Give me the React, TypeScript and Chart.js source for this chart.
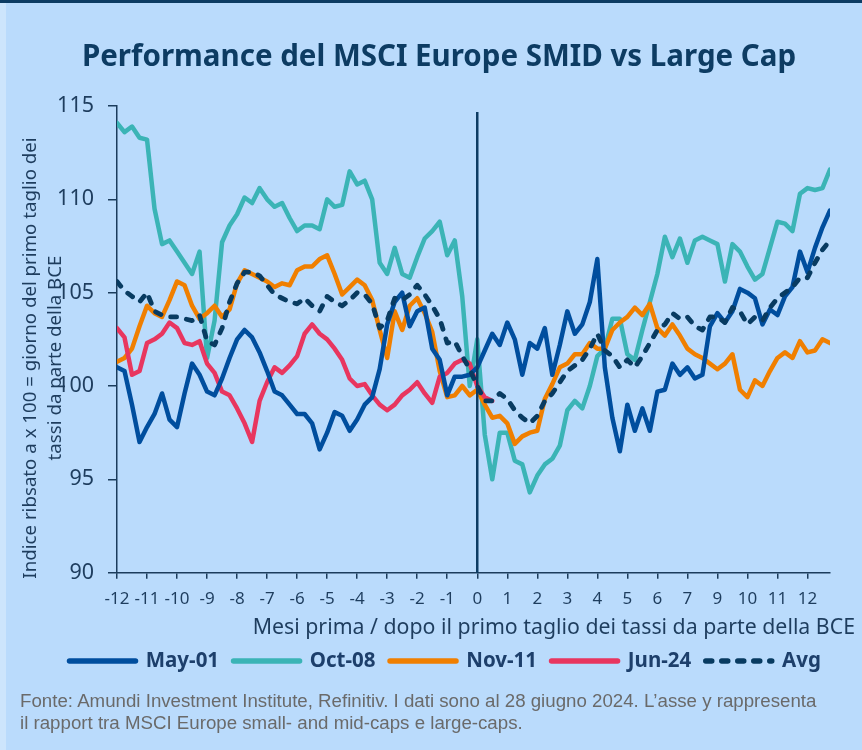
import React, { useEffect, useRef } from "react";
import { Chart, registerables } from "chart.js";

Chart.register(...registerables);

// ---------- data ----------
const TITLE = "Performance del MSCI Europe SMID vs Large Cap";
const Y_TITLE = ["Indice ribsato a x 100 = giorno del primo taglio dei", "tassi da parte della BCE"];
const X_TITLE = "Mesi prima / dopo il primo taglio dei tassi da parte della BCE";
const FOOTNOTE = [
  "Fonte: Amundi Investment Institute, Refinitiv. I dati sono al 28 giugno 2024. L\u2019asse y rappresenta",
  "il rapport tra MSCI Europe small- and mid-caps e large-caps.",
];

// tick labels shown under each month tick (from -12 to the last tick)
const tickLabels = ["-12", "-11", "-10", "-9", "-8", "-7", "-6", "-5", "-4", "-3", "-2", "-1", "0", "1", "2", "3", "4", "5", "6", "7", "9", "10", "11", "12"];

// time grid: quarter-month steps relative to the first ECB cut
const months = Array.from({ length: 96 }, (_, i) => -12 + i * 0.25);

const may01 = [
  101.0, 100.8, 99.0, 97.0, 97.8, 98.5, 99.6, 98.2, 97.8, 99.6,
  101.2, 100.6, 99.7, 99.5, 100.4, 101.5, 102.5, 103.0, 102.6, 101.8,
  100.8, 99.7, 99.5, 99.0, 98.5, 98.5, 98.0, 96.6, 97.5, 98.6,
  98.4, 97.6, 98.2, 99.0, 99.4, 100.9, 103.3, 104.5, 105.0, 103.2,
  104.0, 104.2, 102.0, 101.4, 99.5, 100.5, 100.5, 100.6, 101.0, 101.9,
  102.8, 102.2, 103.4, 102.5, 100.6, 102.3, 102.0, 103.1, 100.6, 102.2,
  104.0, 102.8, 103.3, 104.5, 106.8, 101.0, 98.3, 96.5, 99.0, 97.6,
  98.8, 97.6, 99.7, 99.8, 101.2, 100.6, 101.0, 100.4, 100.6, 103.2,
  103.9, 103.4, 104.0, 105.2, 105.0, 104.7, 103.3, 104.1, 103.8, 104.8,
  105.3, 107.2, 106.1, 107.4, 108.5, 109.4,
];

const oct08 = [
  114.1, 113.6, 113.9, 113.3, 113.2, 109.5, 107.6, 107.8, 107.2, 106.6,
  106.0, 107.2, 101.5, 103.5, 107.7, 108.6, 109.2, 110.1, 109.8, 110.6,
  110.0, 109.6, 109.8, 109.0, 108.3, 108.6, 108.6, 108.4, 110.0, 109.6,
  109.7, 111.5, 110.8, 111.0, 110.0, 106.6, 106.0, 107.4, 106.0, 105.8,
  106.9, 107.9, 108.3, 108.8, 107.0, 107.8, 104.8, 100.0, 102.5, 97.4,
  95.0, 97.5, 97.5, 96.0, 95.8, 94.3, 95.2, 95.8, 96.1, 96.8,
  98.7, 99.2, 98.8, 100.0, 101.6, 102.0, 103.6, 103.6, 101.7, 101.4,
  103.0, 104.5, 106.0, 108.0, 106.9, 107.9, 106.6, 107.8, 108.0, 107.8,
  107.6, 105.6, 107.6, 107.2, 106.4, 105.7, 106.0, 107.4, 108.8, 108.7,
  108.3, 110.3, 110.6, 110.5, 110.6, 111.6,
];

const nov11 = [
  101.3, 101.5, 102.0, 103.2, 104.3, 103.9, 103.7, 104.6, 105.6, 105.4,
  104.3, 103.6, 103.9, 104.3, 103.7, 104.1, 105.5, 106.2, 106.0, 105.8,
  105.6, 105.3, 105.5, 105.4, 106.2, 106.4, 106.4, 106.8, 107.0, 106.0,
  104.9, 105.3, 105.7, 105.4, 104.6, 103.0, 101.5, 104.0, 103.0, 104.3,
  104.7, 103.9, 102.9, 100.8, 99.4, 99.5, 100.0, 99.5, 99.8, 99.0,
  98.3, 98.4, 98.0, 96.9, 97.3, 97.5, 97.6, 99.3, 100.1, 101.0,
  101.2, 101.7, 101.7, 102.3, 102.0, 102.0, 103.0, 103.4, 103.7, 104.2,
  103.8, 104.4, 103.1, 102.7, 103.3, 102.7, 102.0, 101.7, 101.5, 101.2,
  100.9, 101.2, 101.7, 99.8, 99.4, 100.3, 100.0, 100.8, 101.5, 101.8,
  101.5, 102.4, 101.8, 101.9, 102.5, 102.3,
];

const jun24 = [
  103.1, 102.6, 100.6, 100.8, 102.3, 102.5, 102.8, 103.4, 103.1, 102.3,
  102.2, 102.4, 101.2, 100.7, 99.7, 99.5, 98.8, 98.0, 97.0, 99.2,
  100.2, 101.0, 100.7, 101.1, 101.6, 102.8, 103.3, 102.8, 102.5, 102.0,
  101.4, 100.4, 100.0, 100.1, 99.5, 99.0, 98.7, 99.0, 99.5, 99.8,
  100.2, 99.6, 99.1, 100.5, 100.7, 101.2, 101.4, 101.2, 100.0, 99.4,
  99.2,
];

const avg = [
  105.6, 105.1, 104.8, 104.5, 105.0, 104.0, 103.8, 103.7, 103.7, 103.6,
  103.5, 103.8, 102.4, 102.2, 103.1, 104.5, 105.5, 106.1, 106.1, 105.9,
  105.4, 104.9, 104.7, 104.5, 104.4, 104.7, 104.3, 104.0, 104.8, 104.5,
  104.3, 104.6, 105.0, 104.9, 104.4, 103.1, 103.5, 104.7, 104.6, 104.9,
  105.4, 104.9, 104.3, 103.6, 102.3, 102.4, 101.6, 100.9, 100.0, 99.2,
  99.2, 99.6, 99.3, 98.7, 98.3, 98.0, 98.4, 99.2, 99.6, 100.2,
  100.8, 101.1, 101.4, 102.0, 102.8, 101.9, 101.6, 101.0, 101.4, 101.0,
  101.6, 102.3, 103.0, 103.3, 103.9, 103.6, 103.7, 103.2, 103.0, 103.7,
  103.7, 103.4, 104.2, 104.0, 103.3, 103.7, 103.5, 104.2, 104.7, 105.0,
  105.3, 105.8, 105.8, 106.6, 107.3, 107.8,
];

// ---------- styles ----------
const BG = "#badbfc";
const NAVY = "#0d3c63";
const AXIS = "#1b3c5c";
const TEXT = "#1e3d5e";
const C_MAY = "#004e9e";
const C_OCT = "#3bb4b6";
const C_NOV = "#f07f00";
const C_JUN = "#e8365f";
const C_AVG = "#083b61";

const overlay = {
  id: "overlay",
  afterLayout(chart: any) {
    // centre the title on the whole card rather than on the padded area
    const t = chart.titleBlock;
    if (t) {
      t.left = 16;
      t.right = 862;
    }
  },
  afterDatasetsDraw(chart: any) {
    const { ctx, chartArea, scales } = chart;
    const x0 = scales.x.getPixelForValue(0);
    ctx.save();
    ctx.strokeStyle = NAVY;
    ctx.lineWidth = 2.5;
    ctx.beginPath();
    ctx.moveTo(x0, chartArea.top + 6);
    ctx.lineTo(x0, chartArea.bottom);
    ctx.stroke();
    ctx.restore();
  },
  afterDraw(chart: any) {
    const { ctx, chartArea } = chart;
    ctx.save();
    ctx.fillStyle = TEXT;
    ctx.textBaseline = "middle";
    ctx.font = '18.7px "Noto Sans"';
    // y axis title (rotated, two lines)
    ctx.save();
    ctx.translate(31, 358);
    ctx.rotate(-Math.PI / 2);
    ctx.textAlign = "center";
    ctx.fillText(Y_TITLE[0], 0, 0);
    ctx.fillText(Y_TITLE[1], 0, 25);
    ctx.restore();
    // x axis title, right aligned past the plot edge
    ctx.font = '21.3px "Noto Sans"';
    ctx.textAlign = "right";
    ctx.fillText(X_TITLE, chartArea.right + 25, 628);
    ctx.restore();
  },
};

export default function App() {
  const ref = useRef<HTMLCanvasElement | null>(null);

  useEffect(() => {
    document.body.style.margin = "0";
    if (!ref.current) return;
    const chart = new Chart(ref.current, {
      type: "line",
      data: {
        labels: months,
        datasets: [
          { label: "May-01", data: may01, borderColor: C_MAY, backgroundColor: C_MAY, order: 1 },
          { label: "Oct-08", data: oct08, borderColor: C_OCT, backgroundColor: C_OCT, order: 4 },
          { label: "Nov-11", data: nov11, borderColor: C_NOV, backgroundColor: C_NOV, order: 3 },
          { label: "Jun-24", data: jun24, borderColor: C_JUN, backgroundColor: C_JUN, order: 2 },
          { label: "Avg", data: avg, borderColor: C_AVG, backgroundColor: C_AVG, borderDash: [6, 10], borderWidth: 4.8, order: 0 },
        ].map((d: any) => ({
          borderWidth: 4.5,
          borderCapStyle: "round",
          borderJoinStyle: "round",
          pointRadius: 0,
          pointHoverRadius: 0,
          tension: 0,
          fill: false,
          yAxisID: "y",
          ...d,
        })) as any,
      },
      options: {
        animation: false,
        responsive: false,
        maintainAspectRatio: false,
        layout: { padding: { left: 55, right: 0, top: 0, bottom: 68.75 } },
        plugins: {
          title: {
            display: true,
            text: TITLE,
            color: NAVY,
            font: { family: "Noto Sans", size: 29.5, weight: "bold" },
            padding: { top: 40.3, bottom: 30.3 },
          },
          legend: {
            position: "bottom",
            align: "start",
            labels: {
              usePointStyle: true,
              pointStyle: "line",
              pointStyleWidth: 66,
              color: "#1d3f6b",
              font: { family: "Noto Sans", size: 20.5, weight: "bold" },
              padding: 14.5,
              sort: (a: any, b: any) => a.datasetIndex - b.datasetIndex,
              generateLabels: (ch: any) => {
                const items = Chart.defaults.plugins.legend.labels.generateLabels(ch);
                return items.map((it: any) => {
                  const ds: any = ch.data.datasets[it.datasetIndex];
                  return {
                    ...it,
                    lineWidth: 5.5,
                    pointStyle: "line",
                    strokeStyle: ds.borderColor,
                    fillStyle: ds.borderColor,
                    lineDash: ds.borderDash || [],
                    lineCap: "round",
                  };
                });
              },
            },
          },
          tooltip: { enabled: false },
        },
        scales: {
          x: {
            type: "linear",
            min: -12,
            max: 11.75,
            border: { display: true, color: AXIS, width: 1.5 },
            grid: { display: true, drawOnChartArea: false, drawTicks: true, tickLength: 6, color: AXIS, lineWidth: 1.5 },
            ticks: {
              stepSize: 1,
              includeBounds: false,
              autoSkip: false,
              maxRotation: 0,
              padding: 10,
              color: TEXT,
              font: { family: "Noto Sans", size: 17 },
              callback: (v: any) => (Number.isInteger(v) ? tickLabels[v + 12] : null),
            },
            title: {
              display: true,
              text: X_TITLE,
              color: "rgba(0,0,0,0)",
              font: { family: "Noto Sans", size: 13 },
              padding: { top: 1.6, bottom: 0 },
            },
          },
          y: {
            position: "left",
            min: 90,
            max: 115,
            afterFit: (s: any) => {
              s.width = 62;
            },
            border: { display: true, color: AXIS, width: 1.5 },
            grid: { display: true, drawOnChartArea: false, drawTicks: true, tickLength: 9, color: AXIS, lineWidth: 1.5 },
            ticks: {
              stepSize: 5,
              padding: 14,
              color: TEXT,
              font: { family: "Noto Sans", size: 21.5 },
            },
          },
          yRight: {
            position: "right",
            type: "linear",
            min: 0,
            max: 1,
            afterFit: (s: any) => {
              s.width = 32;
            },
            border: { display: false },
            grid: { display: false },
            ticks: { display: false },
          },
        },
      },
      plugins: [overlay],
    } as any);
    return () => chart.destroy();
  }, []);

  return (
    <div style={{ position: "relative", width: 862, height: 750, background: BG, overflow: "hidden" }}>
      <canvas ref={ref} width={862} height={750} style={{ position: "absolute", left: 0, top: 0 }} />
      <div style={{ position: "absolute", left: 0, top: 0, width: 862, height: 3, background: NAVY }} />
      <div style={{ position: "absolute", left: 0, top: 3, width: 6, height: 747, background: "#cde5fc" }} />
      <div
        style={{
          position: "absolute",
          left: 20,
          top: 690,
          fontFamily: '"Liberation Sans", Arial, sans-serif',
          fontSize: 18.7,
          lineHeight: "22px",
          color: "#6a6a6a",
          whiteSpace: "nowrap",
        }}
      >
        {FOOTNOTE.map((l, i) => (
          <div key={i}>{l}</div>
        ))}
      </div>
    </div>
  );
}
